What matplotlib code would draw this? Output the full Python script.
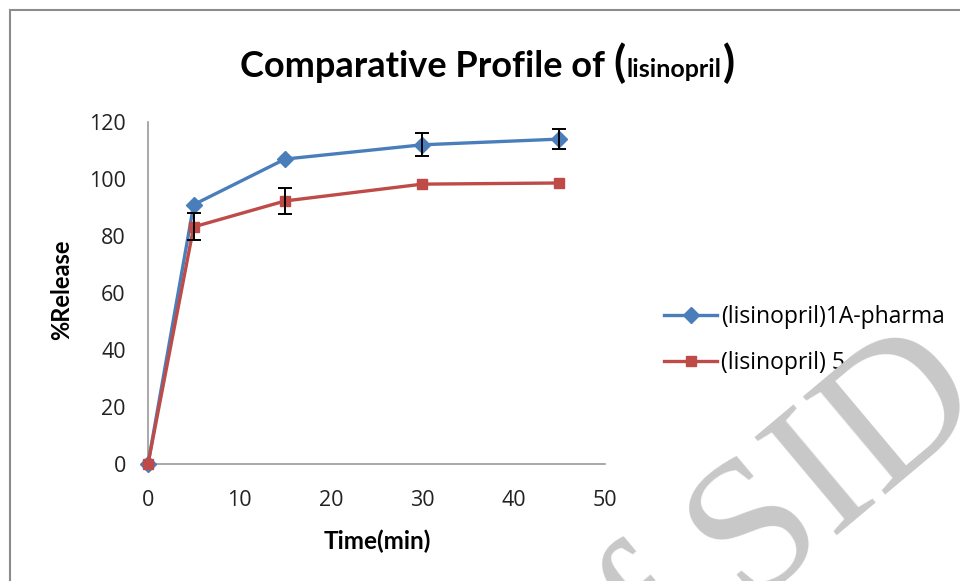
import numpy as np
import matplotlib.pyplot as plt
from matplotlib.patches import Rectangle

# dissolution data
time_min = [0, 5, 15, 30, 45]
release_1a = [0, 91, 107, 112, 114]
release_5 = [0, 83.2, 92.3, 98.2, 98.6]
err_1a = [0, 0, 0, 4.1, 3.5]
err_5 = [0, 4.7, 4.7, 0, 0]
labels = ['(lisinopril)1A-pharma', '(lisinopril) 5']

blue = '#4A7EBB'
red = '#BE4B48'

fig = plt.figure(figsize=(9.6, 5.81), dpi=100)
ax = fig.add_axes([148/960, 1-464/581, (605-148)/960, (464-122)/581])

ax.plot(time_min, release_1a, color=blue, lw=2.4, marker='D', ms=8.5,
        label=labels[0], zorder=3)
ax.plot(time_min, release_5, color=red, lw=2.4, marker='s', ms=7,
        label=labels[1], zorder=3)

# error bars only where there is a visible error
t = np.array(time_min)
for y, e in [(release_1a, err_1a), (release_5, err_5)]:
    y = np.array(y)
    e = np.array(e)
    m = e > 0
    ax.errorbar(t[m], y[m], yerr=e[m], fmt='none', ecolor='black',
                elinewidth=1.4, capsize=5, capthick=1.4, zorder=4)

ax.set_xlim(0, 50)
ax.set_ylim(0, 120)
ax.set_xticks([0, 10, 20, 30, 40, 50])
ax.set_yticks([0, 20, 40, 60, 80, 100, 120])
for s in ['top', 'right']:
    ax.spines[s].set_visible(False)
for s in ['left', 'bottom']:
    ax.spines[s].set_color('#9a9a9a')
    ax.spines[s].set_linewidth(1.2)
ax.tick_params(length=0, labelsize=15.5, colors='#222222')
ax.tick_params(axis='y', pad=16)
ax.tick_params(axis='x', pad=19)
for lab in ax.get_xticklabels() + ax.get_yticklabels():
    lab.set_family('Open Sans')
for ln in ax.lines:
    ln.set_clip_on(False)

fig.text(62/960, 1-290/581, '%Release', rotation=90, ha='center', va='center',
         fontsize=17, fontweight='bold', family='Lato')
fig.text(377/960, 1-541/581, 'Time(min)', ha='center', va='center',
         fontsize=17.5, fontweight='bold', family='Lato')

# title with small "lisinopril" inside big brackets
y0 = 1-77/581
t1 = fig.text(240/960, y0, 'Comparative Profile of ', ha='left',
              va='baseline', fontsize=26, fontweight='bold', family='Lato')
t2 = fig.text(0, 0, '(', fontsize=32, fontweight='bold', family='Lato')
t3 = fig.text(0, 0, 'lisinopril', fontsize=18, fontweight='bold', family='Lato')
t4 = fig.text(0, 0, ')', fontsize=32, fontweight='bold', family='Lato')
fig.canvas.draw()
r = fig.canvas.get_renderer()
x = t1.get_window_extent(r).x1
for tt in [t2, t3, t4]:
    tt.set_position((x/960, y0))
    tt.set_va('baseline')
    x = tt.get_window_extent(r).x1 + 1

ax.legend(loc='center left', bbox_to_anchor=(655/960, 1-340/581),
          bbox_transform=fig.transFigure, frameon=False,
          prop={'family': 'Open Sans', 'size': 16.5}, handlelength=2.3,
          handletextpad=0.2, labelspacing=1.0, borderaxespad=0)

# chart area border
fig.patches.append(Rectangle((10/960, -0.1), 1.2, 1+0.1-10/581,
                             transform=fig.transFigure, fill=False,
                             edgecolor='#8c8c8c', lw=1.5))

# watermark
fig.text(989/960, 1-408/581, 'of SID', rotation=40,
         rotation_mode='anchor', ha='right', va='baseline', fontsize=140,
         family='Liberation Serif', color='#c8c8c8', zorder=10)

fig.savefig('out.png', dpi=100)
